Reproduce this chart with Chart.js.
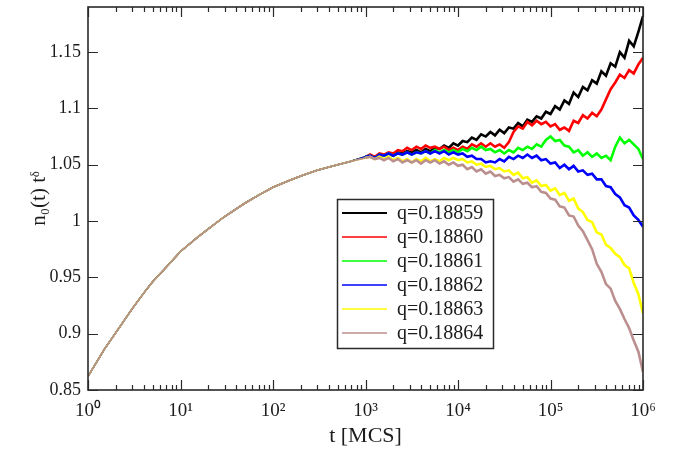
<!DOCTYPE html>
<html>
<head>
<meta charset="utf-8">
<script src="https://cdn.jsdelivr.net/npm/chart.js@4.4.0/dist/chart.umd.min.js"></script>
<style>
  html, body { margin: 0; padding: 0; background: #fff; }
  #chart { display: block; }
</style>
</head>
<body>
<canvas id="chart" width="677" height="453"></canvas>
<script>
// early part: all six q values lie on top of each other up to ~1e3 MCS
const tEarly = [1, 1.5, 2, 3, 4, 5, 7, 10, 15, 20, 30, 50, 70, 100, 150, 200, 300, 500, 700];
const nEarly = [0.862, 0.886, 0.901, 0.922, 0.936, 0.946, 0.959, 0.973, 0.985, 0.993, 1.004, 1.016, 1.023, 1.030, 1.036, 1.040, 1.045, 1.050, 1.053];

// late part, where the curves split
const tLate = [
  1000, 1122, 1259, 1413, 1585, 1778, 1995, 2239, 2512, 2818,
  3162, 3548, 3981, 4467, 5012, 5623, 6310, 7079, 7943, 8913,
  10000, 11220, 12590, 14130, 15850, 17780, 19950, 22390, 25120, 28180,
  31620, 35480, 39810, 44670, 50120, 56230, 63100, 70790, 79430, 89130,
  100000, 112200, 125900, 141300, 158500, 177800, 199500, 223900, 251200, 281800,
  316200, 354800, 398100, 446700, 501200, 562300, 631000, 707900, 794300, 891300,
  1000000
];
const q18859 = [
  1.057, 1.058, 1.056, 1.059, 1.058, 1.060, 1.058, 1.061, 1.060, 1.062,
  1.061, 1.063, 1.061, 1.064, 1.062, 1.065, 1.064, 1.067, 1.065, 1.069,
  1.067, 1.071, 1.070, 1.074, 1.072, 1.077, 1.075, 1.079, 1.076, 1.081,
  1.078, 1.083, 1.082, 1.087, 1.084, 1.090, 1.088, 1.093, 1.091, 1.097,
  1.095, 1.102, 1.099, 1.107, 1.104, 1.114, 1.110, 1.119, 1.116, 1.125,
  1.122, 1.133, 1.129, 1.140, 1.137, 1.150, 1.145, 1.160, 1.155, 1.168,
  1.182
];
const q18860 = [
  1.057, 1.059, 1.057, 1.060, 1.059, 1.061, 1.060, 1.063, 1.062, 1.065,
  1.063, 1.066, 1.064, 1.067, 1.065, 1.066, 1.064, 1.066, 1.063, 1.065,
  1.063, 1.066, 1.064, 1.068, 1.066, 1.069, 1.066, 1.069, 1.066, 1.068,
  1.065, 1.070, 1.079, 1.084, 1.082, 1.088, 1.085, 1.089, 1.086, 1.088,
  1.084, 1.086, 1.081, 1.083, 1.080, 1.089, 1.087, 1.094, 1.091, 1.096,
  1.093, 1.099, 1.108, 1.117, 1.123, 1.130, 1.127, 1.134, 1.131, 1.139,
  1.145
];
const q18861 = [
  1.057, 1.058, 1.056, 1.059, 1.058, 1.060, 1.058, 1.060, 1.059, 1.061,
  1.059, 1.061, 1.060, 1.062, 1.060, 1.063, 1.061, 1.063, 1.061, 1.063,
  1.061, 1.064, 1.062, 1.065, 1.063, 1.066, 1.063, 1.064, 1.061, 1.063,
  1.060, 1.063, 1.061, 1.065, 1.063, 1.066, 1.064, 1.068, 1.066, 1.072,
  1.075, 1.071, 1.072, 1.067, 1.066, 1.061, 1.063, 1.058, 1.061, 1.057,
  1.060, 1.056, 1.058, 1.054, 1.066, 1.074, 1.069, 1.072, 1.068, 1.064,
  1.055
];
const q18862 = [
  1.057, 1.058, 1.056, 1.059, 1.058, 1.060, 1.058, 1.060, 1.059, 1.061,
  1.059, 1.061, 1.060, 1.062, 1.060, 1.062, 1.060, 1.062, 1.059, 1.061,
  1.059, 1.060, 1.057, 1.058, 1.055, 1.055, 1.052, 1.053, 1.052, 1.055,
  1.053, 1.057, 1.055, 1.058, 1.056, 1.059, 1.056, 1.058, 1.054, 1.055,
  1.051, 1.052, 1.047, 1.050, 1.046, 1.049, 1.044, 1.045, 1.041, 1.042,
  1.037, 1.037, 1.031, 1.030, 1.024, 1.021, 1.014, 1.012, 1.005, 1.001,
  0.995
];
const q18863 = [
  1.056, 1.057, 1.055, 1.057, 1.055, 1.057, 1.054, 1.056, 1.053, 1.055,
  1.052, 1.055, 1.053, 1.056, 1.053, 1.055, 1.053, 1.056, 1.054, 1.056,
  1.054, 1.055, 1.052, 1.053, 1.050, 1.051, 1.048, 1.049, 1.046, 1.047,
  1.044, 1.045, 1.041, 1.043, 1.038, 1.039, 1.034, 1.036, 1.031, 1.032,
  1.027, 1.029, 1.023, 1.025, 1.018, 1.020, 1.011, 1.008, 1.001, 0.999,
  0.990, 0.988, 0.979, 0.976, 0.971, 0.968, 0.961, 0.958, 0.945, 0.935,
  0.918
];
const q18864 = [
  1.056, 1.057, 1.055, 1.056, 1.054, 1.056, 1.053, 1.055, 1.052, 1.054,
  1.052, 1.054, 1.051, 1.054, 1.052, 1.054, 1.051, 1.053, 1.050, 1.052,
  1.049, 1.050, 1.046, 1.048, 1.044, 1.046, 1.042, 1.044, 1.040, 1.041,
  1.038, 1.039, 1.035, 1.037, 1.033, 1.034, 1.030, 1.031, 1.026, 1.025,
  1.020, 1.019, 1.013, 1.012, 1.005, 1.004, 0.996, 0.991, 0.983, 0.975,
  0.962, 0.955, 0.944, 0.940, 0.929, 0.922, 0.913, 0.905, 0.894, 0.884,
  0.866
];

const seriesLabels = ['q=0.18859', 'q=0.18860', 'q=0.18861', 'q=0.18862', 'q=0.18863', 'q=0.18864'];
const seriesColors = ['#000000', '#ff0000', '#00ff00', '#0000ff', '#ffff00', '#bc8f8f'];
const seriesValues = [q18859, q18860, q18861, q18862, q18863, q18864];

const xTickValues = [1, 10, 100, 1000, 10000, 100000, 1000000];
const xTickLabels = ['10\u2070', '10\u00b9', '10\u00b2', '10\u00b3', '10\u2074', '10\u2075', '10\u2076'];
const yTickValues = [0.85, 0.9, 0.95, 1, 1.05, 1.1, 1.15];
const yTickLabels = ['0.85', '0.9', '0.95', '1', '1.05', '1.1', '1.15'];

const serif = "'Liberation Serif', 'Times New Roman', serif";
const ink = '#1c1c1c';

const allT = tEarly.concat(tLate);
const datasets = seriesValues.map((vals, i) => {
  const ys = nEarly.concat(vals);
  return {
    label: seriesLabels[i],
    data: allT.map((t, k) => ({ x: t, y: ys[k] })),
    borderColor: seriesColors[i],
    borderWidth: 1.5,
    // the noisy late part looks like a thicker band in the original
    segment: { borderWidth: c => c.p0.parsed.x >= 1000 ? 2.6 : 1.5 },
    pointRadius: 0,
    tension: 0,
    fill: false,
    order: seriesLabels.length - i   // later q drawn on top, as in the original
  };
});

// frame with inward ticks on all four sides
const frameTicks = {
  id: 'frameTicks',
  afterDatasetsDraw(chart) {
    const { ctx, chartArea: a, scales: { x, y } } = chart;
    ctx.save();
    ctx.strokeStyle = '#2a2a2a';
    ctx.lineWidth = 1.2;
    ctx.beginPath();
    xTickValues.forEach((v, d) => {
      const px = Math.round(x.getPixelForValue(v)) + 0.5;
      ctx.moveTo(px, a.bottom); ctx.lineTo(px, a.bottom - 10);
      ctx.moveTo(px, a.top); ctx.lineTo(px, a.top + 10);
      if (d < xTickValues.length - 1) {
        for (let m = 2; m < 10; m++) {
          const mx = Math.round(x.getPixelForValue(v * m)) + 0.5;
          ctx.moveTo(mx, a.bottom); ctx.lineTo(mx, a.bottom - 5);
          ctx.moveTo(mx, a.top); ctx.lineTo(mx, a.top + 5);
        }
      }
    });
    yTickValues.forEach(v => {
      const py = Math.round(y.getPixelForValue(v)) + 0.5;
      ctx.moveTo(a.left, py); ctx.lineTo(a.left + 10, py);
      ctx.moveTo(a.right, py); ctx.lineTo(a.right - 10, py);
    });
    ctx.stroke();
    ctx.lineWidth = 1.6;
    ctx.strokeRect(a.left, a.top, a.right - a.left, a.bottom - a.top);
    ctx.restore();
  }
};

// boxed legend inside the plot, like the xmgrace original
const boxLegend = {
  id: 'boxLegend',
  afterDraw(chart) {
    const { ctx } = chart;
    const left = 337, top = 199, w = 156, h = 149, row = 24, first = 213;
    ctx.save();
    ctx.fillStyle = '#fff';
    ctx.fillRect(left, top, w, h);
    ctx.strokeStyle = '#2a2a2a';
    ctx.lineWidth = 1.5;
    ctx.strokeRect(left + 0.5, top + 0.5, w, h);
    ctx.font = '20px ' + serif;
    ctx.textBaseline = 'middle';
    ctx.textAlign = 'left';
    chart.data.datasets.forEach((ds, i) => {
      const cy = first + i * row;
      ctx.strokeStyle = ds.borderColor;
      ctx.lineWidth = i === 0 ? 2.2 : 1.6;
      ctx.beginPath();
      ctx.moveTo(342, cy); ctx.lineTo(387, cy);
      ctx.stroke();
      ctx.fillStyle = ink;
      ctx.fillText(ds.label, 397, cy + 1);
    });
    ctx.restore();
  }
};

new Chart(document.getElementById('chart'), {
  type: 'line',
  data: { datasets: datasets },
  options: {
    responsive: false,
    animation: false,
    devicePixelRatio: 1,
    layout: { padding: { top: 7, right: 34, left: 0, bottom: 0 } },
    plugins: {
      legend: { display: false },
      tooltip: { enabled: false }
    },
    scales: {
      x: {
        type: 'logarithmic',
        min: 1,
        max: 1000000,
        afterBuildTicks: s => { s.ticks = xTickValues.map(v => ({ value: v })); },
        afterFit: s => { s.height = 63; s.paddingLeft = 0; s.paddingRight = 0; },
        grid: { display: false, drawTicks: false },
        border: { display: false },
        ticks: {
          autoSkip: false,
          maxRotation: 0,
          padding: 10,
          color: ink,
          font: { family: serif, size: 19 },
          callback: (v, i) => xTickLabels[i]
        },
        title: {
          display: true,
          text: 't [MCS]',
          color: ink,
          font: { family: serif, size: 22 },
          padding: { top: 0, bottom: 4 }
        }
      },
      y: {
        type: 'linear',
        min: 0.85,
        max: 1.19,
        afterBuildTicks: s => { s.ticks = yTickValues.map(v => ({ value: v })); },
        afterFit: s => { s.width = 88; s.paddingTop = 0; s.paddingBottom = 0; },
        grid: { display: false, drawTicks: false },
        border: { display: false },
        ticks: {
          padding: 7,
          color: ink,
          font: { family: serif, size: 18 },
          callback: (v, i) => yTickLabels[i]
        },
        title: {
          display: true,
          text: 'n\u2080(t) t\u1d5f',
          color: ink,
          font: { family: serif, size: 21 },
          padding: { top: 27, bottom: 0 }
        }
      }
    }
  },
  plugins: [frameTicks, boxLegend]
});
</script>
</body>
</html>
